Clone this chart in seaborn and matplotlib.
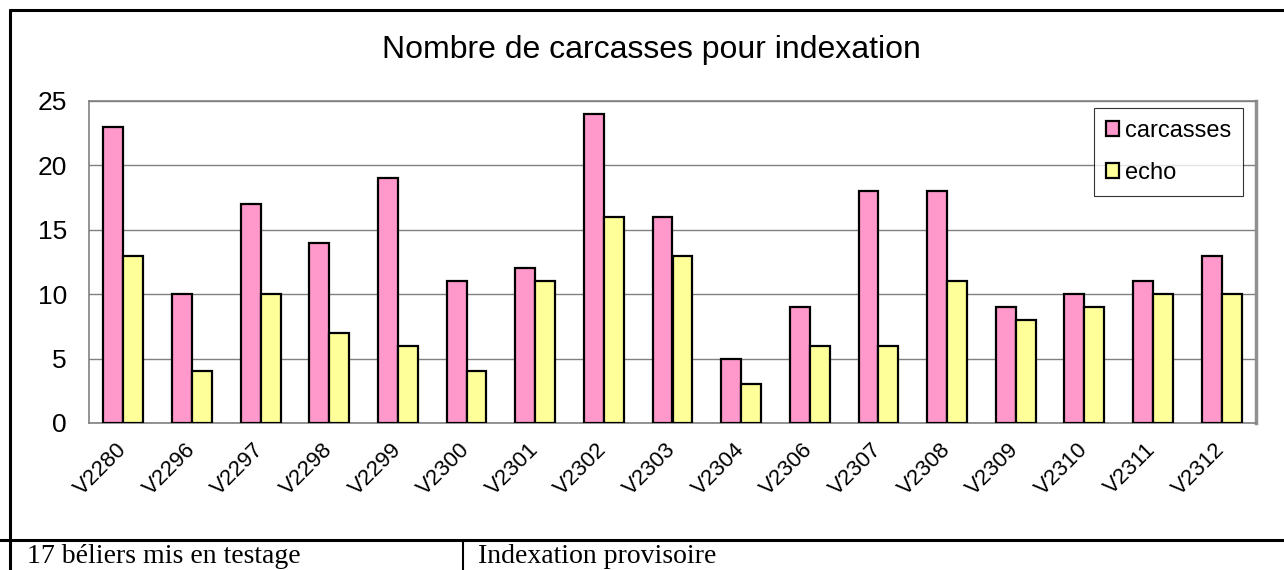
import matplotlib
matplotlib.use("Agg")
import matplotlib.pyplot as plt
from matplotlib.lines import Line2D
import pandas as pd
import seaborn as sns

# chart values
beliers = ["V2280", "V2296", "V2297", "V2298", "V2299", "V2300", "V2301", "V2302", "V2303",
           "V2304", "V2306", "V2307", "V2308", "V2309", "V2310", "V2311", "V2312"]
carcasses = [23, 10, 17, 14, 19, 11, 12, 24, 16, 5, 9, 18, 18, 9, 10, 11, 13]
echo = [13, 4, 10, 7, 6, 4, 11, 16, 13, 3, 6, 6, 11, 8, 9, 10, 10]
series = ["carcasses", "echo"]
colors = ["#FF99CC", "#FFFF99"]
yticks = [0, 5, 10, 15, 20, 25]

df = pd.DataFrame({
    "belier": beliers * 2,
    "serie": [series[0]] * len(beliers) + [series[1]] * len(beliers),
    "valeur": carcasses + echo,
})

sns.set_theme(style="white")
plt.rcParams["font.family"] = ["Liberation Sans", "DejaVu Sans"]
plt.rcParams["text.color"] = "black"
plt.rcParams["xtick.color"] = "black"
plt.rcParams["ytick.color"] = "black"

W, H = 1284, 570
fig = plt.figure(figsize=(W / 100, H / 100), dpi=100)
ax = fig.add_axes([89 / W, 1 - 423 / H, (1256 - 89) / W, (423 - 101) / H])

sns.barplot(data=df, x="belier", y="valeur", hue="serie", hue_order=series,
            palette=colors, width=0.58, gap=0, edgecolor="black", linewidth=1.6,
            saturation=1, ax=ax, zorder=3)

ax.set_ylim(0, 25)
ax.set_yticks(yticks)
ax.set_xlim(-0.5, len(beliers) - 0.5)
ax.yaxis.grid(True, color="#808080", linewidth=1.0, zorder=0)
ax.set_axisbelow(True)
ax.set_xlabel("")
ax.set_ylabel("")
for side in ["left", "top", "bottom"]:
    ax.spines[side].set_color("#808080")
    ax.spines[side].set_linewidth(1.2)
ax.spines["right"].set_color("#909090")
ax.spines["right"].set_linewidth(2.5)

ax.tick_params(axis="y", length=0, pad=16, labelsize=19)
ax.tick_params(axis="x", length=0, pad=17, labelsize=16)
for lab in ax.get_xticklabels():
    lab.set_rotation(45)
    lab.set_ha("right")
    lab.set_va("center")
    lab.set_rotation_mode("anchor")

handles, labels = ax.get_legend_handles_labels()
leg = ax.legend(handles, labels, loc="upper right", bbox_to_anchor=(0.989, 0.978),
                borderaxespad=0, fontsize=17, frameon=True, fancybox=False,
                handlelength=0.55, handleheight=0.55, handletextpad=0.25,
                labelspacing=0.85, borderpad=0.5)
leg.get_frame().set_edgecolor("black")
leg.get_frame().set_linewidth(0.8)
for h in leg.legend_handles:
    h.set_edgecolor("black")
    h.set_linewidth(1.6)

fig.text(651 / W, 1 - 50 / H, "Nombre de carcasses pour indexation",
         ha="center", va="center", fontsize=23)

# cadre du tableau
lw = 2.2
fig.add_artist(Line2D([10 / W, 1.01], [1 - 10 / H] * 2, color="black", lw=lw))
fig.add_artist(Line2D([10 / W] * 2, [1 - 10 / H, 1 - 540 / H], color="black", lw=lw))
fig.add_artist(Line2D([0, 1.01], [1 - 540 / H] * 2, color="black", lw=lw))
fig.add_artist(Line2D([10 / W] * 2, [1 - 540 / H, -0.01], color="black", lw=lw))
fig.add_artist(Line2D([463 / W] * 2, [1 - 540 / H, -0.01], color="black", lw=1.5))

serif = ["Liberation Serif", "DejaVu Serif"]
fig.text(27 / W, 1 - 563 / H, "17 béliers mis en testage", ha="left", va="baseline",
         fontsize=20, family=serif)
fig.text(478 / W, 1 - 563 / H, "Indexation provisoire", ha="left", va="baseline",
         fontsize=20, family=serif)

fig.savefig("out.png", dpi=100)
